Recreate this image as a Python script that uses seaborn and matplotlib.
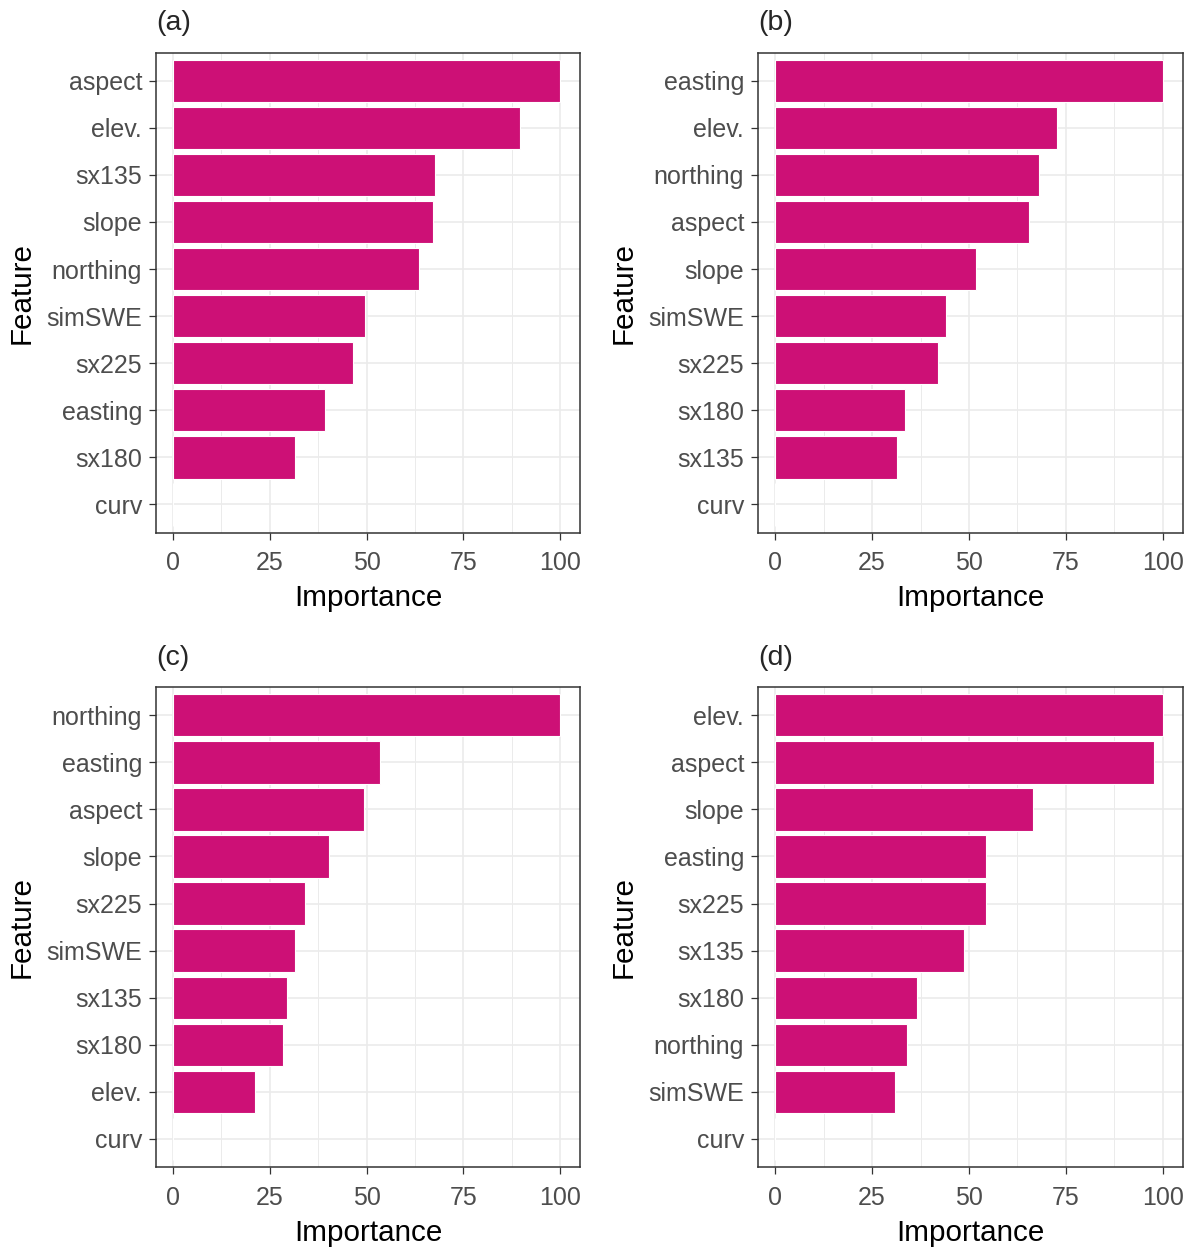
import pandas as pd
import seaborn as sns
import matplotlib.pyplot as plt

# feature importance per panel, top to bottom
feat_a = ["aspect", "elev.", "sx135", "slope", "northing", "simSWE", "sx225", "easting", "sx180", "curv"]
imp_a = [100, 89.5, 67.7, 67.2, 63.6, 49.6, 46.5, 39.2, 31.5, 0]

feat_b = ["easting", "elev.", "northing", "aspect", "slope", "simSWE", "sx225", "sx180", "sx135", "curv"]
imp_b = [100, 72.7, 68.0, 65.4, 51.8, 44.0, 41.9, 33.6, 31.5, 0]

feat_c = ["northing", "easting", "aspect", "slope", "sx225", "simSWE", "sx135", "sx180", "elev.", "curv"]
imp_c = [100, 53.4, 49.2, 40.4, 34.1, 31.5, 29.4, 28.4, 21.1, 0]

feat_d = ["elev.", "aspect", "slope", "easting", "sx225", "sx135", "sx180", "northing", "simSWE", "curv"]
imp_d = [100, 97.7, 66.4, 54.4, 54.4, 48.7, 36.6, 34.0, 30.9, 0]

tags = ["(a)", "(b)", "(c)", "(d)"]
BAR = "#CD1076"
W, H = 1192, 1249


def draw(ax, feats, imps, tag):
    df = pd.DataFrame({"Feature": feats, "Importance": imps})
    sns.barplot(data=df, x="Importance", y="Feature", order=feats, orient="h",
                color=BAR, saturation=1, edgecolor="white", linewidth=0.8,
                width=0.9, ax=ax)
    ax.set_xlim(-4.4, 105.1)
    ax.set_ylim(len(feats) - 0.4, -0.6)
    ax.set_xticks([0, 25, 50, 75, 100])
    ax.set_xticks([12.5, 37.5, 62.5, 87.5], minor=True)
    ax.set_axisbelow(True)
    ax.grid(True, which="major", color="#EBEBEB", lw=1.2)
    ax.grid(True, which="minor", axis="x", color="#EBEBEB", lw=0.7)
    ax.tick_params(axis="both", which="major", bottom=True, left=True,
                   length=5, width=0.9, color="#333333",
                   labelcolor="#4D4D4D", labelsize=18)
    ax.tick_params(axis="x", which="major", pad=8.5)
    ax.tick_params(axis="y", which="major", pad=5)
    ax.tick_params(axis="x", which="minor", length=0)
    for s in ax.spines.values():
        s.set_visible(True)
        s.set_color("#333333")
        s.set_linewidth(1.1)
    ax.set_xlabel("Importance", fontsize=21.3, color="black", labelpad=6.5)
    ax.set_ylabel("Feature", fontsize=21.3, color="black", labelpad=8)
    ax.set_title(tag, loc="left", fontsize=20.5, pad=16)


sns.set_theme(style="white")
plt.rcParams["font.family"] = ["Liberation Sans", "DejaVu Sans"]

fig = plt.figure(figsize=(W / 100, H / 100), dpi=100)

# panel boxes in pixels: left, top, right, bottom
boxes = [(156, 52.5, 580, 532.7), (758, 52.5, 1182.7, 532.7),
         (156, 687, 580, 1167.2), (758, 687, 1182.7, 1167.2)]
data = [(feat_a, imp_a), (feat_b, imp_b), (feat_c, imp_c), (feat_d, imp_d)]

for (l, t, r, b), (f, v), tag in zip(boxes, data, tags):
    ax = fig.add_axes([l / W, 1 - b / H, (r - l) / W, (b - t) / H])
    draw(ax, f, v, tag)

fig.savefig("out.png", dpi=100, facecolor="white")
